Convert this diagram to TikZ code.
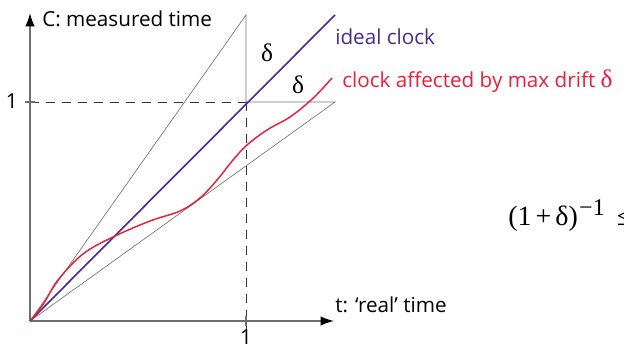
\documentclass[tikz,border=0pt]{standalone}
\usepackage{fontspec}
\setmainfont{Open Sans}
\newfontfamily\serif{Liberation Serif}
\usetikzlibrary{arrows.meta}
\definecolor{ideal}{HTML}{4A2A8C}
\definecolor{drift}{HTML}{E8203A}
\definecolor{axisgray}{HTML}{6E6E6E}
\tikzset{
  axis/.style={draw=axisgray, line width=1.1pt, -{Latex[length=10pt,width=7pt,black]}},
  bound/.style={draw=black!55, line width=0.5pt},
  guide/.style={draw=black!80, line width=0.6pt, dash pattern=on 7pt off 5pt},
  lbl/.style={font=\fontsize{15.5}{17}\selectfont, inner sep=0pt, anchor=base west},
  dlt/.style={font=\serif\fontsize{19}{20}\selectfont, inner sep=0pt}
}
\begin{document}
\begin{tikzpicture}[x=0.75pt,y=-0.75pt]
\useasboundingbox (0,0) rectangle (624,345);
\clip (0,0) rectangle (624,345);
\coordinate (O) at (30,321);
\coordinate (ytop) at (30,13);
\coordinate (xend) at (334,321);
\coordinate (P) at (246,102);
\coordinate (U) at (246,15);
\coordinate (L) at (335,102);
\coordinate (I) at (335,15);
\coordinate (Y1) at (30,102);
\coordinate (X1) at (246,330);
% bounds
\draw[bound] (O) -- (U) -- (P) -- (L) -- (O);
% dashed guides
\draw[guide] (Y1) -- (P);
\draw[guide] (P) -- (X1);
% axes
\draw[axis] (O) -- (ytop);
\draw[axis] (O) -- (xend);
\draw[axisgray, line width=1pt] (25,102) -- (35,102);
\draw[axisgray, line width=1pt] (246,316) -- (246,326);
% ideal clock
\draw[ideal, line width=1.2pt] (O) -- (I);
% drift clock
\draw[drift, line width=1.1pt] plot[smooth, tension=0.6] coordinates {
 (30,321) (44,303) (58,280) (83,254) (113,237) (150,221) (180,211)
 (200,198) (217,180) (233,160) (247,145) (267,130) (290,117) (310,101) (323,88) (332,78)};
% labels
\node[lbl, anchor=base west] (ylab) at (42,27) {C: measured time};
\node[lbl, anchor=base west] (xlab) at (335,312) {t: ‘real’ time};
\node[lbl, anchor=base east] (one y) at (18,109) {1};
\node[lbl, anchor=base] (one x) at (246,344) {1};
\node[lbl, anchor=base west, text=ideal] (ideallab) at (335,45) {ideal clock};
\node[lbl, anchor=base west, text=drift] (driftlab) at (342,88) {clock affected by max drift {\serif\fontsize{19}{20}\selectfont δ}};
\node[dlt] (d1) at (267,53) {δ};
\node[dlt] (d2) at (298,85) {δ};
\node[dlt, anchor=base west, font=\serif\fontsize{21}{22}\selectfont] (frac) at (508,226) {(1\hspace{3pt}+\hspace{3pt}δ)\hspace{1pt}\raisebox{8pt}{\fontsize{18}{19}\selectfont −1}\hspace{9pt}≤};
\end{tikzpicture}
\end{document}
